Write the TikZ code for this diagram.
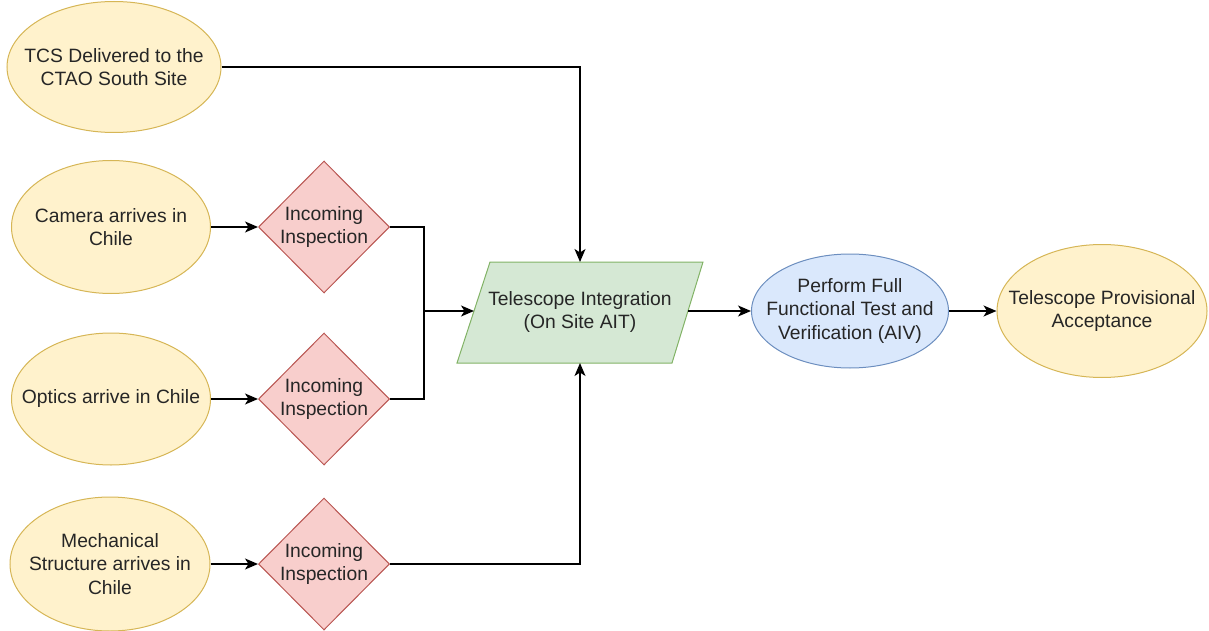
\documentclass[tikz,border=0pt]{standalone}
\usepackage{fontspec}
\setmainfont{Liberation Sans}
\usetikzlibrary{shapes.geometric,arrows.meta}
\definecolor{yelF}{HTML}{FFF2CC}
\definecolor{yelD}{HTML}{D6B656}
\definecolor{redF}{HTML}{F8CECC}
\definecolor{redD}{HTML}{B85450}
\definecolor{grnF}{HTML}{D5E8D4}
\definecolor{grnD}{HTML}{82B366}
\definecolor{bluF}{HTML}{DAE8FC}
\definecolor{bluD}{HTML}{6C8EBF}
\definecolor{textc}{HTML}{262626}
\begin{document}
\begin{tikzpicture}[x=1pt,y=-1pt,
  txt/.style={align=center, text=textc, font=\fontsize{19.3}{23.5}\selectfont},
  yel/.style={ellipse, draw=yelD, fill=yelF, line width=1pt, inner sep=0pt},
  blu/.style={ellipse, draw=bluD, fill=bluF, line width=1pt, inner sep=0pt},
  insp/.style={diamond, draw=redD, fill=redF, line width=1pt, inner sep=0pt,
     minimum width=131pt, minimum height=132pt,
     label={[txt]center:Incoming\\Inspection}},
  conn/.style={line width=1.4pt, black},
  arr/.style={conn, -{Stealth[length=13pt,width=11pt,inset=3.5pt]}}]
\useasboundingbox (0,0) rectangle (1209,631);

% left column
\node[yel, minimum width=214pt, minimum height=131pt,
  label={[txt]center:TCS Delivered to the\\CTAO South Site}] (tcs) at (114,67) {};
\node[yel, minimum width=199pt, minimum height=133pt,
  label={[txt]center:Camera arrives in\\Chile}] (cam) at (111,227) {};
\node[yel, minimum width=199pt, minimum height=132pt,
  label={[txt]center:Optics arrive in Chile}] (opt) at (111,399) {};
\node[yel, minimum width=200pt, minimum height=134pt,
  label={[txt]center:Mechanical\\Structure arrives in\\Chile}] (mech) at (110,564) {};

% inspections
\node[insp] (d1) at (324,227) {};
\node[insp] (d2) at (324,399) {};
\node[insp] (d3) at (324,564) {};

% integration parallelogram
\filldraw[fill=grnF, draw=grnD, line width=1pt]
  (490,262) -- (703,262) -- (672,363) -- (457,363) -- cycle;
\node[txt] (integ) at (580,312) {Telescope Integration\\(On Site AIT)};
\coordinate (integN) at (580,262);
\coordinate (integS) at (580,363);
\coordinate (integW) at (474,311);
\coordinate (integE) at (688,311);
\coordinate (j) at (424,311);

% right side
\node[blu, minimum width=197pt, minimum height=114pt,
  label={[txt]center:Perform Full\\Functional Test and\\Verification (AIV)}] (aiv) at (850,311) {};
\node[yel, minimum width=210pt, minimum height=133pt,
  label={[txt]center:Telescope Provisional\\Acceptance}] (acc) at (1102,311) {};

% connectors
\draw[arr] (tcs.east) -| (integN);
\draw[arr] (cam.east) -- (d1.west);
\draw[arr] (opt.east) -- (d2.west);
\draw[arr] (mech.east) -- (d3.west);
\draw[conn] (d1.east) -| (j);
\draw[conn] (d2.east) -| (j);
\draw[arr] (j) -- (integW);
\draw[arr] (d3.east) -| (integS);
\draw[arr] (integE) -- (aiv.west);
\draw[arr] (aiv.east) -- (acc.west);
\end{tikzpicture}
\end{document}
